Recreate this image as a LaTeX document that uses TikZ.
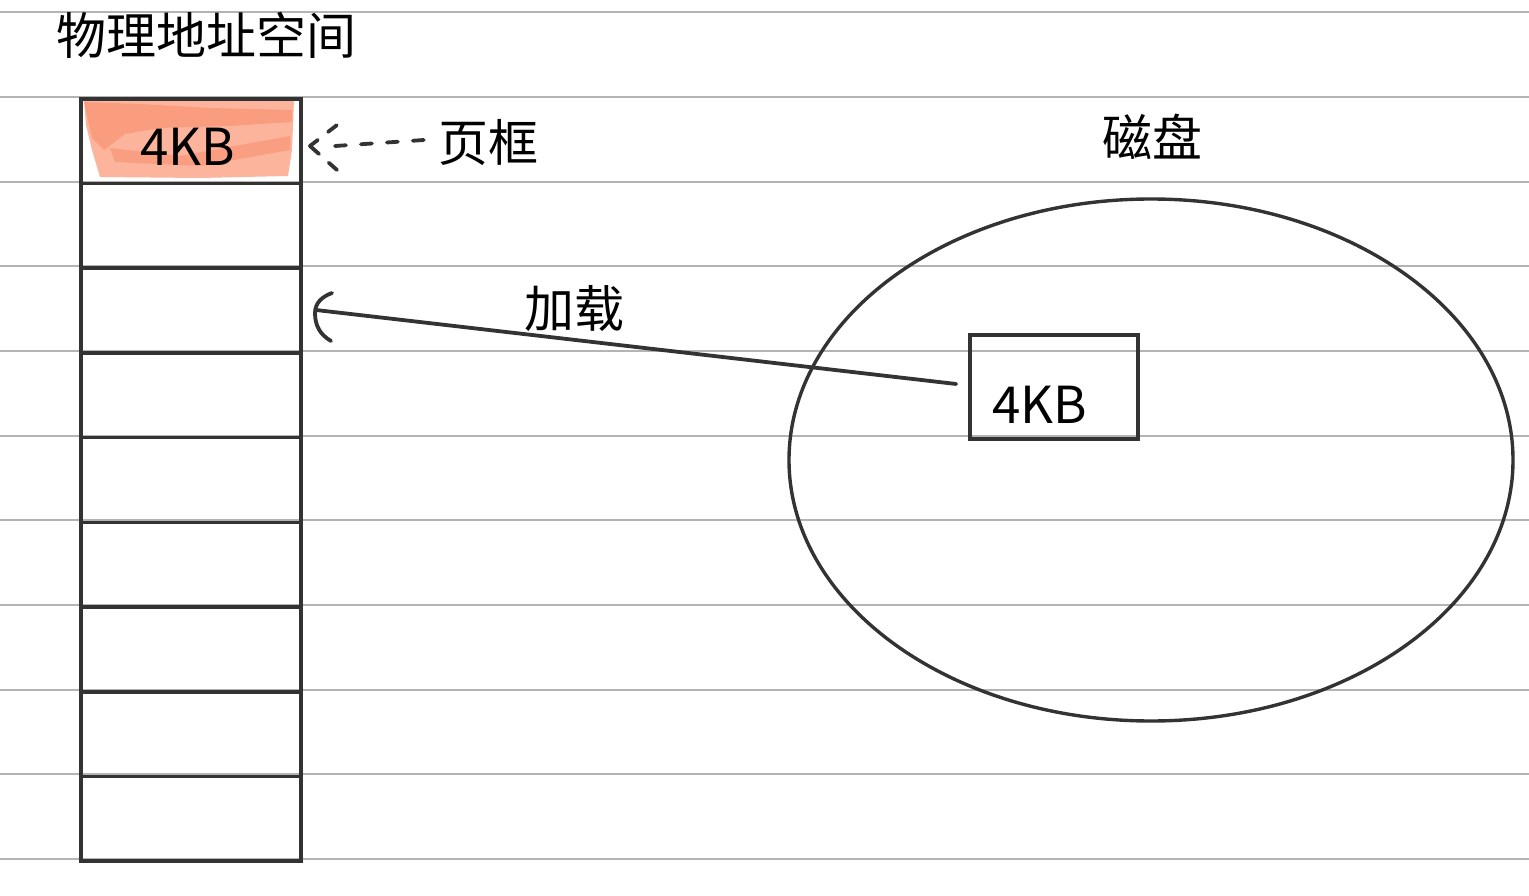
\documentclass[tikz,border=0pt]{standalone}
\usepackage{fontspec}
\setmainfont{Noto Sans CJK SC}
\newfontfamily\cjk{Noto Sans CJK SC}
\definecolor{ink}{HTML}{333333}
\definecolor{rule}{HTML}{B4B4B4}
\definecolor{hlA}{HTML}{FCB49D}
\definecolor{hlB}{HTML}{F98A66}
\tikzset{
  cell/.style={draw=ink, line width=3.6pt, minimum width=220pt, minimum height=84.7pt, inner sep=0pt, anchor=north west},
  lbl/.style={inner sep=0pt, font=\cjk\fontsize{50}{54}\selectfont, text=black},
  kb/.style={inner sep=0pt, font=\cjk\fontsize{51}{54}\selectfont, text=black},
  conn/.style={draw=ink, line width=3.8pt, line cap=round, line join=round},
}
\begin{document}
\begin{tikzpicture}[x=1pt,y=-1pt]
\useasboundingbox (0,0) rectangle (1529,896);
\fill[white] (0,0) rectangle (1529,896);
% ruled lines
\foreach \y in {12,97,182,266,351,436,520,605,690,774,859}
  \draw[rule, line width=1.4pt] (0,\y) -- (1529,\y);
% highlight
\fill[hlA] (84,100) -- (294,100) -- (292,150) -- (288,176) -- (200,178) -- (100,177) -- (92,150) -- (86,125) -- cycle;
\fill[hlB, opacity=0.55] (84,102) -- (140,104) -- (210,108) -- (292,110) -- (292,122) -- (230,126) -- (160,128) -- (125,134) -- (104,150) -- (92,138) -- cycle;
\fill[hlB, opacity=0.5] (110,148) -- (180,156) -- (290,136) -- (290,150) -- (200,166) -- (115,162) -- cycle;
% column of frames
\foreach \i in {0,...,8}
  \node[cell] (c\i) at (79,{97+84.7*\i}) {};
\node[kb] (kbtop) at (188,147) {4KB};
% title
\node[lbl, anchor=west] (title) at (56,35) {物理地址空间};
% page frame label and dashed arrow
\node[lbl] (yk) at (488,143) {页框};
\coordinate (dtip) at (310,146);
\draw[conn, dash pattern=on 11pt off 15pt] ([xshift=-14pt,yshift=3pt]yk.west) -- ([xshift=25pt]dtip);
\draw[conn, dash pattern=on 11pt off 13pt on 22pt off 13pt on 11pt off 100pt] ([xshift=27pt,yshift=-24pt]dtip) -- (dtip) -- ([xshift=27pt,yshift=21pt]dtip);
% disk
\node[lbl] (disklbl) at (1152,137) {磁盘};
\draw[ink, line width=3.4pt] (1151,460) ellipse [x radius=362, y radius=261];
\node[draw=ink, line width=3.6pt, minimum width=168pt, minimum height=104pt, inner sep=0pt] (dbox) at (1054,387) {};
\node[kb] (kbdisk) at (1040,405) {4KB};
% load arrow
\coordinate (ltip) at (316,310);
\draw[conn] ([xshift=-12pt,yshift=3pt]dbox.west) -- (ltip);
\draw[conn] (332,293) to[out=200,in=90] (315,313) to[out=-90,in=150] (331,341);
\node[lbl] (load) at (574,309) {加载};
\end{tikzpicture}
\end{document}
